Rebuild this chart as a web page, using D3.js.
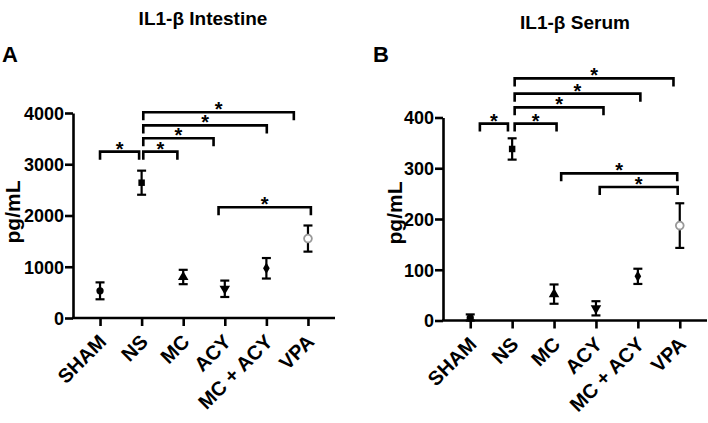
<!DOCTYPE html>
<html><head><meta charset="utf-8">
<script src="https://cdn.jsdelivr.net/npm/d3@7/dist/d3.min.js"></script>
<style>
body{margin:0;background:#fff;}
svg text{font-family:"Liberation Sans",Arial,sans-serif;font-weight:bold;fill:#000;}
</style></head>
<body>
<svg id="chart" width="708" height="423"></svg>
<script>
const categories = ["SHAM", "NS", "MC", "ACY", "MC + ACY", "VPA"];
const markerTypes = ["circle", "square", "triangleUp", "triangleDown", "diamond", "openCircle"];

const intestineMean = [530, 2640, 800, 570, 970, 1550];
const intestineSem = [165, 235, 140, 160, 200, 255];
const intestineTicks = [0, 1000, 2000, 3000, 4000];
// brackets: [start (category index), end (category index), level (pg/mL)]
const intestineBrackets = [[0, 0.94, 3246], [1.04, 1.86, 3246], [1.04, 2.73, 3508], [1.04, 4.01, 3758], [1.04, 4.66, 4015], [2.85, 5.07, 2161]];

const serumMean = [5, 338, 52, 24, 87, 187];
const serumSem = [7, 21, 19, 14, 15, 44];
const serumTicks = [0, 100, 200, 300, 400];
const serumBrackets = [[0.23, 0.9, 388], [1.06, 2.06, 388], [1.06, 3.18, 420], [1.06, 4.06, 447], [1.06, 4.85, 477], [2.17, 4.94, 290], [3.09, 4.95, 263]];

const svg = d3.select("#chart");
const FONT = "'Liberation Sans',Arial,sans-serif";

function drawPanel(p) {
  const g = svg.append("g");
  const x = d3.scalePoint().domain(categories).range([p.x0, p.x1]).padding(0.65);
  const xi = d3.scaleLinear().domain([0, categories.length - 1]).range([x(categories[0]), x(categories[categories.length - 1])]);
  const y = d3.scaleLinear().domain([0, p.ticks[p.ticks.length - 1]]).range([p.yBottom, p.yTop]);

  // title and panel letter
  g.append("text").attr("x", p.titleX).attr("y", p.titleY).attr("text-anchor", "middle")
    .style("font-size", "19px").text(p.title);
  g.append("text").attr("x", p.letterX).attr("y", 62).style("font-size", "22px").text(p.letter);

  // y axis
  const ya = g.append("g").attr("transform", `translate(${p.x0},0)`)
    .call(d3.axisLeft(y).tickValues(p.ticks).tickFormat(d3.format("d")).tickSize(8).tickSizeOuter(0).tickPadding(1));
  ya.selectAll("path,line").attr("stroke", "#000").attr("stroke-width", 2.6);
  ya.selectAll("text").style("font-size", "18px").style("font-family", FONT).style("font-weight", "bold").attr("dy", "0.36em");

  // x axis
  const xa = g.append("g").attr("transform", `translate(0,${p.yBottom})`)
    .call(d3.axisBottom(x).tickSize(8).tickSizeOuter(0));
  xa.select(".domain").attr("d", `M${p.x0 - 1},0H${p.x1}`);
  xa.selectAll("path,line").attr("stroke", "#000").attr("stroke-width", 2.6);
  xa.selectAll("text").style("font-size", "20px").style("font-family", FONT).style("font-weight", "bold")
    .attr("text-anchor", "end").attr("dy", null).attr("y", null)
    .attr("transform", "translate(7,25) rotate(-45)");

  g.append("text").attr("transform", `translate(${p.labelX},${p.labelY}) rotate(-90)`)
    .attr("text-anchor", "middle").style("font-size", "21px").text("pg/mL");

  // error bars
  const eb = g.append("g").attr("stroke", "#000").attr("stroke-width", 2.2);
  categories.forEach((c, i) => {
    const cx = x(c), hi = y(p.mean[i] + p.sem[i]), lo = y(Math.max(0, p.mean[i] - p.sem[i]));
    eb.append("line").attr("x1", cx).attr("x2", cx).attr("y1", hi).attr("y2", lo);
    eb.append("line").attr("x1", cx - 4.5).attr("x2", cx + 4.5).attr("y1", hi).attr("y2", hi);
    eb.append("line").attr("x1", cx - 4.5).attr("x2", cx + 4.5).attr("y1", lo).attr("y2", lo);
  });

  // markers
  const sym = {
    circle: [d3.symbolCircle, 42, 0], square: [d3.symbolSquare, 42, 0],
    triangleUp: [d3.symbolTriangle, 48, 0], triangleDown: [d3.symbolTriangle, 48, 180],
    diamond: [d3.symbolDiamond, 38, 0], openCircle: [d3.symbolCircle, 48, 0]
  };
  categories.forEach((c, i) => {
    const t = markerTypes[i], s = sym[t];
    const path = g.append("path").attr("d", d3.symbol(s[0], s[1])())
      .attr("transform", `translate(${x(c)},${y(p.mean[i])}) rotate(${s[2]})`);
    if (t === "openCircle") path.attr("fill", "#fff").attr("stroke", "#999").attr("stroke-width", 1.8);
    else path.attr("fill", "#000");
  });

  // significance brackets
  const bg = g.append("g");
  p.brackets.forEach(b => {
    const xa_ = xi(b[0]), xb = xi(b[1]), yy = y(b[2]);
    bg.append("path").attr("d", `M${xa_},${yy + 8}V${yy}H${xb}V${yy + 8}`)
      .attr("fill", "none").attr("stroke", "#000").attr("stroke-width", 2.6);
    bg.append("text").attr("x", (xa_ + xb) / 2).attr("y", yy + 4).attr("text-anchor", "middle")
      .style("font-size", "20px").text("*");
  });
}

drawPanel({ x0: 73, x1: 335, yBottom: 318, yTop: 113, ticks: intestineTicks, mean: intestineMean, sem: intestineSem,
  brackets: intestineBrackets, title: "IL1-β Intestine", titleX: 203, titleY: 25, letter: "A", letterX: 2,
  labelX: 20, labelY: 212 });
drawPanel({ x0: 443, x1: 707, yBottom: 320.5, yTop: 117.5, ticks: serumTicks, mean: serumMean, sem: serumSem,
  brackets: serumBrackets, title: "IL1-β Serum", titleX: 575, titleY: 29, letter: "B", letterX: 373,
  labelX: 402, labelY: 213 });
</script>
</body></html>
